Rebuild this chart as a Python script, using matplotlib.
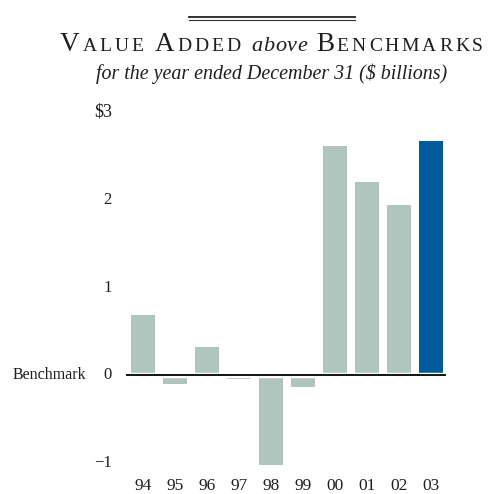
import matplotlib
matplotlib.use("Agg")
import matplotlib.pyplot as plt

years = ["94", "95", "96", "97", "98", "99", "00", "01", "02", "03"]
values = [0.69, -0.10, 0.32, -0.05, -1.03, -0.14, 2.62, 2.20, 1.94, 2.67]
y_ticks = [3, 2, 1, 0, -1]
y_tick_labels = ["$3", "2", "1", "0", "\u22121"]

W, H = 490, 494
fig = plt.figure(figsize=(W / 100, H / 100), dpi=100)
SERIF = ["Liberation Serif", "DejaVu Serif"]
TXT = "#1e1e1e"
GREY = "#b0c6bd"
BLUE = "#005b9a"

# axes placement (pixel geometry)
x_left, x_right = 126, 446
y0_px, unit_px = 375, 87.5
ymin, ymax = -1.1, 3.0
top_px = y0_px - ymax * unit_px
bot_px = y0_px - ymin * unit_px
ax = fig.add_axes([x_left / W, (H - bot_px) / H, (x_right - x_left) / W, (bot_px - top_px) / H])
ax.set_xlim(-0.53125, 9.46875)
ax.set_ylim(ymin, ymax)
ax.axis("off")

colors = [GREY] * (len(values) - 1) + [BLUE]
ax.bar(range(len(values)), values, width=0.75, color=colors, zorder=2)
ax.axhline(0, color="white", lw=3.9, zorder=3)
ax.axhline(0, color="black", lw=1.3, zorder=4)

# y tick labels
for v, lab in zip(y_ticks, y_tick_labels):
    ax.text(-0.53125 - 14 / 32, v, lab, ha="right", va="center",
            fontsize=13 if lab.startswith("$") else 12,
            family=SERIF, color=TXT, transform=ax.transData)
ax.text(-0.53125 - 40 / 32, 0, "Benchmark", ha="right", va="center", fontsize=11.5,
        family=SERIF, color=TXT)
# x tick labels
for i, yr in enumerate(years):
    ax.text(i, ymin - 15 / unit_px, yr, ha="center", va="center", fontsize=12.5,
            family=SERIF, color=TXT)

# double rule at top
fig.add_artist(plt.Line2D([189 / W, 355 / W], [1 - 17 / H, 1 - 17 / H], color="#333333", lw=1.4))
fig.add_artist(plt.Line2D([189 / W, 355 / W], [1 - 19.8 / H, 1 - 19.8 / H], color="#333333", lw=0.8))

# title in small caps with tracking
renderer = fig.canvas.get_renderer()
pieces = [("V", 19.5, "normal"), ("ALUE", 14, "normal"), (" ", 12, "normal"),
          ("A", 19.5, "normal"), ("DDED", 14, "normal"), (" ", 12, "normal"),
          ("above", 16, "italic"), (" ", 12, "normal"),
          ("B", 19.5, "normal"), ("ENCHMARKS", 14, "normal")]
track = 2.9
space_w = 8.5
base_y = 1 - 51 / H
items = []
x = 0.0
for s, size, style in pieces:
    if s == " ":
        x += space_w
        continue
    for ch in s:
        t = fig.text(0, base_y, ch, fontsize=size, style=style, family=SERIF,
                     color=TXT, va="baseline", ha="left")
        w = t.get_window_extent(renderer).width
        items.append((t, x))
        x += w + (track if style == "normal" else 0.5)
total = x - track
cx = 271.5
start = cx - total / 2
for t, off in items:
    t.set_position(((start + off) / W, base_y))

fig.text(272 / W, 1 - 74 / H, "for the year ended December 31 ($ billions)", ha="center",
         va="center", fontsize=14.4, style="italic", family=SERIF, color=TXT)

fig.savefig("out.png", dpi=100)
